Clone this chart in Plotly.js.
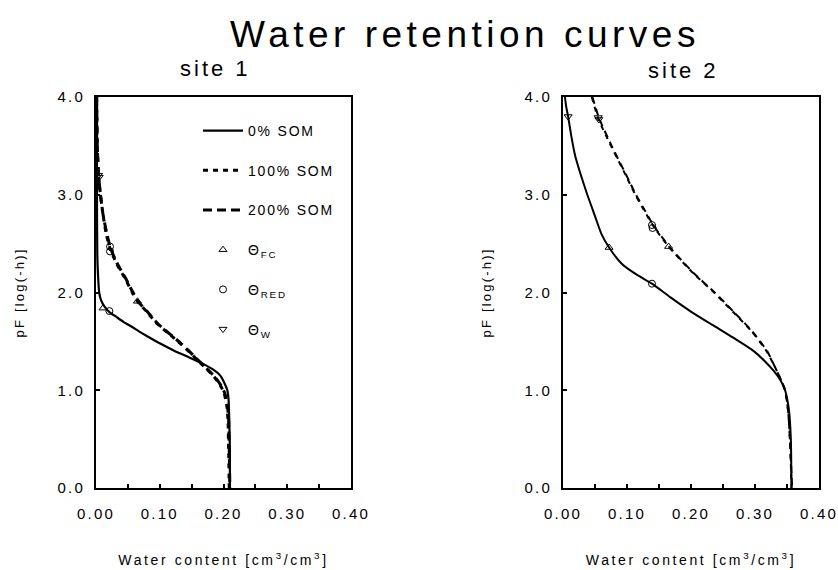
<!DOCTYPE html>
<html>
<head>
<meta charset="utf-8">
<script src="https://cdn.plot.ly/plotly-3.0.1.min.js"></script>
<style>
  html, body { margin: 0; padding: 0; background: #fff; }
  #chart { width: 838px; height: 570px; }
  svg text { letter-spacing: 2.2px; }
  svg .gtitle { letter-spacing: 4.5px; }
  svg .xtitle, svg .x2title { letter-spacing: 2.6px; }
  svg .annotation-text { letter-spacing: 3px; }
  svg .legendtext { letter-spacing: 1.8px; }
</style>
</head>
<body>
<div id="chart"></div>
<script>
// ---------- data ----------
// Site 1
const s1_som0_pF   = [4.0, 3.0, 2.4, 2.2, 2.0, 1.92, 1.85, 1.8, 1.75, 1.7, 1.65, 1.6, 1.55, 1.48, 1.4, 1.34, 1.28, 1.21, 1.15, 1.08, 1.0, 0.9, 0.7, 0.4, 0.0];
const s1_som0_wc   = [0.0015, 0.0015, 0.002, 0.003, 0.005, 0.008, 0.014, 0.021, 0.032, 0.043, 0.056, 0.068, 0.081, 0.1, 0.124, 0.145, 0.165, 0.184, 0.195, 0.201, 0.206, 0.208, 0.209, 0.21, 0.21];
const s1_som100_pF = [4.0, 3.5, 3.2, 3.0, 2.8, 2.6, 2.45, 2.3, 2.15, 2.0, 1.91, 1.8, 1.68, 1.58, 1.48, 1.4, 1.31, 1.22, 1.14, 1.05, 0.97, 0.85, 0.7, 0.4, 0.0];
const s1_som100_wc = [0.001, 0.002, 0.004, 0.007, 0.011, 0.016, 0.022, 0.032, 0.045, 0.057, 0.065, 0.08, 0.096, 0.114, 0.132, 0.145, 0.159, 0.173, 0.185, 0.195, 0.201, 0.205, 0.207, 0.208, 0.209];
const s1_som200_pF = [4.0, 3.5, 3.2, 3.0, 2.8, 2.6, 2.45, 2.3, 2.15, 2.0, 1.91, 1.8, 1.68, 1.58, 1.48, 1.4, 1.31, 1.22, 1.14, 1.05, 0.97, 0.85, 0.7, 0.4, 0.0];
const s1_som200_wc = [0.001, 0.002, 0.004, 0.007, 0.011, 0.017, 0.023, 0.033, 0.046, 0.058, 0.066, 0.081, 0.097, 0.115, 0.133, 0.146, 0.16, 0.174, 0.186, 0.196, 0.202, 0.206, 0.208, 0.209, 0.21];
const s1_fc_wc  = [0.011, 0.065];
const s1_fc_pF  = [1.84, 1.91];
const s1_red_wc = [0.021, 0.022, 0.022];
const s1_red_pF = [1.81, 2.47, 2.42];
const s1_w_wc   = [0.005, 0.004];
const s1_w_pF   = [3.18, 3.2];

// Site 2
const s2_som0_pF   = [4.0, 3.9, 3.8, 3.6, 3.4, 3.2, 3.0, 2.8, 2.6, 2.46, 2.3, 2.2, 2.09, 1.95, 1.8, 1.65, 1.5, 1.4, 1.3, 1.2, 1.1, 1.0, 0.8, 0.5, 0.0];
const s2_som0_wc   = [0.003, 0.005, 0.008, 0.013, 0.019, 0.028, 0.038, 0.049, 0.06, 0.072, 0.091, 0.111, 0.139, 0.168, 0.201, 0.238, 0.275, 0.298, 0.315, 0.329, 0.34, 0.347, 0.353, 0.356, 0.357];
const s2_som100_pF = [4.0, 3.78, 3.5, 3.2, 3.0, 2.85, 2.68, 2.47, 2.2, 2.0, 1.8, 1.6, 1.4, 1.24, 1.1, 1.0, 0.77, 0.43, 0.0];
const s2_som100_wc = [0.045, 0.055, 0.075, 0.098, 0.113, 0.126, 0.141, 0.165, 0.203, 0.236, 0.266, 0.295, 0.318, 0.331, 0.341, 0.347, 0.352, 0.355, 0.357];
const s2_som200_pF = [4.0, 3.79, 3.5, 3.2, 3.0, 2.85, 2.68, 2.47, 2.2, 2.0, 1.8, 1.6, 1.4, 1.24, 1.1, 1.0, 0.77, 0.43, 0.0];
const s2_som200_wc = [0.046, 0.056, 0.076, 0.099, 0.114, 0.127, 0.142, 0.166, 0.204, 0.237, 0.267, 0.296, 0.319, 0.331, 0.341, 0.347, 0.352, 0.355, 0.358];
const s2_fc_wc  = [0.072, 0.165];
const s2_fc_pF  = [2.46, 2.47];
const s2_red_wc = [0.139, 0.139, 0.14];
const s2_red_pF = [2.09, 2.69, 2.66];
const s2_w_wc   = [0.008, 0.055, 0.056];
const s2_w_pF   = [3.8, 3.79, 3.77];

// labels
const seriesNames = ['0% SOM', '100% SOM', '200% SOM', 'Θ<sub>FC</sub>', 'Θ<sub>RED</sub>', 'Θ<sub>W</sub>'];
const mainTitle = 'Water retention curves';
const siteTitles = ['site 1', 'site 2'];
const xTitle = 'Water content [cm<sup>3</sup>/cm<sup>3</sup>]';
const yTitle = 'pF [log(-h)]';

// ---------- traces ----------
const FONT = 'Liberation Sans, Arial, Helvetica, sans-serif';
function line(x, y, name, grp, dash, width, xa, ya, show) {
  return { x: x, y: y, name: name, legendgroup: grp, showlegend: show, type: 'scatter', mode: 'lines',
           line: { color: '#000', width: width, dash: dash, shape: 'spline', smoothing: 0.6 },
           xaxis: xa, yaxis: ya, hoverinfo: 'skip' };
}
function pts(x, y, name, grp, sym, xa, ya, show) {
  return { x: x, y: y, name: name, legendgroup: grp, showlegend: show, type: 'scatter', mode: 'markers',
           marker: { symbol: sym, size: 7, color: '#000', line: { color: '#000', width: 1 } },
           xaxis: xa, yaxis: ya, hoverinfo: 'skip' };
}
const traces = [
  line(s1_som0_wc, s1_som0_pF, seriesNames[0], 'g1', 'solid', 2.2, 'x', 'y', true),
  line(s1_som100_wc, s1_som100_pF, seriesNames[1], 'g2', '5px,5px', 3, 'x', 'y', true),
  line(s1_som200_wc, s1_som200_pF, seriesNames[2], 'g3', '9px,5px', 3, 'x', 'y', true),
  pts(s1_fc_wc, s1_fc_pF, seriesNames[3], 'g4', 'triangle-up-open', 'x', 'y', true),
  pts(s1_red_wc, s1_red_pF, seriesNames[4], 'g5', 'circle-open', 'x', 'y', true),
  pts(s1_w_wc, s1_w_pF, seriesNames[5], 'g6', 'triangle-down-open', 'x', 'y', true),
  line(s2_som0_wc, s2_som0_pF, seriesNames[0], 'g1', 'solid', 2, 'x2', 'y2', false),
  line(s2_som100_wc, s2_som100_pF, seriesNames[1], 'g2', '5px,5px', 2, 'x2', 'y2', false),
  line(s2_som200_wc, s2_som200_pF, seriesNames[2], 'g3', '7px,5px', 2, 'x2', 'y2', false),
  pts(s2_fc_wc, s2_fc_pF, seriesNames[3], 'g4', 'triangle-up-open', 'x2', 'y2', false),
  pts(s2_red_wc, s2_red_pF, seriesNames[4], 'g5', 'circle-open', 'x2', 'y2', false),
  pts(s2_w_wc, s2_w_pF, seriesNames[5], 'g6', 'triangle-down-open', 'x2', 'y2', false)
];

// ---------- layout ----------
const W = 838, H = 570;
function xAxis(d0, d1, anchor) {
  return {
    domain: [d0 / W, d1 / W], anchor: anchor, range: [0, 0.4], dtick: 0.1, tick0: 0, tickformat: '.2f',
    showgrid: false, zeroline: false, showline: true, mirror: true, linecolor: '#000', linewidth: 2,
    ticks: 'inside', ticklen: 4, tickwidth: 2, tickcolor: '#000', ticklabelstandoff: 11,
    minor: { dtick: 0.05, ticks: 'inside', ticklen: 4, tickwidth: 2, tickcolor: '#000', showgrid: false },
    tickfont: { family: FONT, size: 15, color: '#000' },
    title: { text: xTitle, font: { family: FONT, size: 14, color: '#000' }, standoff: 34 },
    fixedrange: true
  };
}
function yAxis(anchor) {
  return {
    domain: [1 - 488 / H, 1 - 97 / H], anchor: anchor, range: [0, 4], dtick: 1, tickformat: '.1f',
    showgrid: false, zeroline: false, showline: true, mirror: true, linecolor: '#000', linewidth: 2,
    ticks: 'inside', ticklen: 4, tickwidth: 2, tickcolor: '#000', ticklabelstandoff: 6,
    tickfont: { family: FONT, size: 15, color: '#000' },
    title: { text: yTitle, font: { family: FONT, size: 13, color: '#000' }, standoff: 30 },
    fixedrange: true
  };
}
const layout = {
  width: W, height: H,
  margin: { l: 0, r: 0, t: 0, b: 0 },
  paper_bgcolor: '#fff', plot_bgcolor: '#fff',
  font: { family: FONT, color: '#000' },
  title: { text: mainTitle, font: { family: FONT, size: 37, color: '#000' },
           x: 465 / W, xanchor: 'center', xref: 'paper', y: 1 - 34 / H, yanchor: 'middle', yref: 'container' },
  xaxis: xAxis(96, 351, 'y'),
  yaxis: yAxis('x'),
  xaxis2: xAxis(563, 819, 'y2'),
  yaxis2: yAxis('x2'),
  showlegend: true,
  legend: {
    x: 198 / W, xanchor: 'left', y: 1 - 115 / H, yanchor: 'top',
    bgcolor: 'rgba(0,0,0,0)', borderwidth: 0, traceorder: 'grouped', tracegroupgap: 18.5,
    itemwidth: 40, font: { family: FONT, size: 14, color: '#000' }
  },
  annotations: [
    { text: siteTitles[0], xref: 'paper', yref: 'paper', x: 215 / W, y: 1 - 68 / H, xanchor: 'center', yanchor: 'middle',
      showarrow: false, font: { family: FONT, size: 22, color: '#000' } },
    { text: siteTitles[1], xref: 'paper', yref: 'paper', x: 683 / W, y: 1 - 71 / H, xanchor: 'center', yanchor: 'middle',
      showarrow: false, font: { family: FONT, size: 22, color: '#000' } }
  ]
};
Plotly.newPlot('chart', traces, layout, { displayModeBar: false, staticPlot: true });
</script>
</body>
</html>
